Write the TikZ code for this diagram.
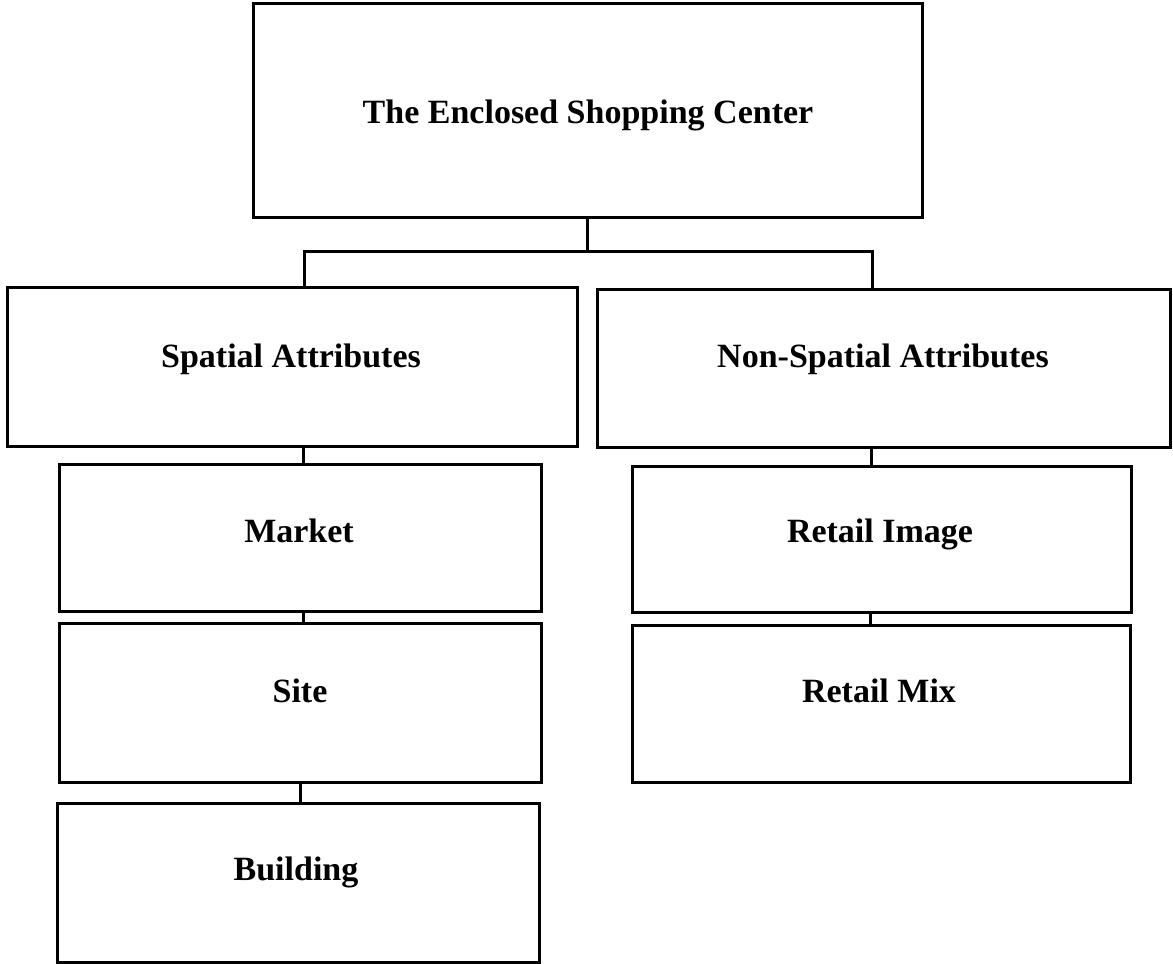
\documentclass[tikz,border=0pt]{standalone}
\usepackage{fontspec}
\setmainfont{Liberation Serif}
\begin{document}
\begin{tikzpicture}[x=1pt,y=-1pt,
  box/.style={draw, line width=3pt, inner sep=0pt},
  lbl/.style={font=\fontsize{34}{40}\selectfont\bfseries, inner sep=0pt, anchor=base},
  conn/.style={line width=3pt}]
\useasboundingbox (0,0) rectangle (1173,964);
% boxes
\node[box, minimum width=669pt, minimum height=214pt] (top) at (587.5,110) {};
\node[box, minimum width=570pt, minimum height=159pt] (spatial) at (292,366.5) {};
\node[box, minimum width=573pt, minimum height=158pt] (nonsp) at (883.5,368) {};
\node[box, minimum width=482pt, minimum height=147pt] (market) at (300,537.5) {};
\node[box, minimum width=482pt, minimum height=159pt] (site) at (300,702.5) {};
\node[box, minimum width=482pt, minimum height=159pt] (building) at (298,882.5) {};
\node[box, minimum width=499pt, minimum height=146pt] (rimage) at (881.5,539) {};
\node[box, minimum width=498pt, minimum height=157pt] (rmix) at (881,703.5) {};
% labels
\node[lbl] (t0) at (588,123) {The Enclosed Shopping Center};
\node[lbl] (t1) at (291,367) {Spatial Attributes};
\node[lbl] (t2) at (883,367) {Non-Spatial Attributes};
\node[lbl] (t3) at (299,542) {Market};
\node[lbl] (t4) at (880,542) {Retail Image};
\node[lbl] (t5) at (300,702) {Site};
\node[lbl] (t6) at (879,702) {Retail Mix};
\node[lbl] (t7) at (296,880) {Building};
% connectors
\draw[conn] (top.south) -- ++(0,33) coordinate (j);
\draw[conn] ([xshift=12pt]spatial.north) |- (j) -| ([xshift=-11pt]nonsp.north);
\draw[conn] ([xshift=11pt]spatial.south) -- ([xshift=3pt]market.north);
\draw[conn] ([xshift=3pt]market.south) -- ([xshift=3pt]site.north);
\draw[conn] (site.south) -- (site.south |- building.north);
\draw[conn] ([xshift=-12.5pt]nonsp.south) -- ([xshift=-10.5pt]rimage.north);
\draw[conn] ([xshift=-11.5pt]rimage.south) -- ([xshift=-11pt]rmix.north);
\end{tikzpicture}
\end{document}
